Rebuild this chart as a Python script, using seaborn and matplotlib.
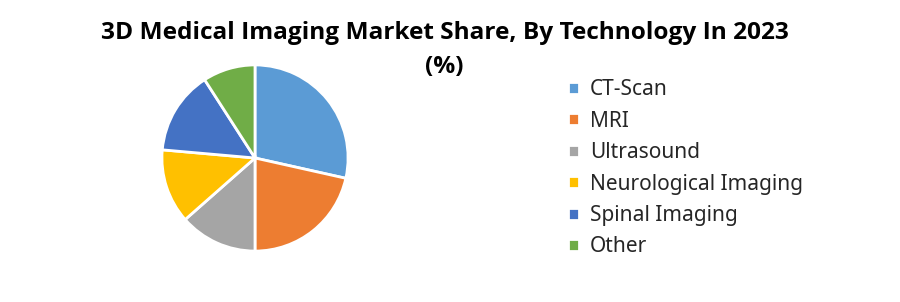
import matplotlib
matplotlib.use("Agg")
import matplotlib.pyplot as plt
import seaborn as sns

categories = ["CT-Scan", "MRI", "Ultrasound", "Neurological Imaging", "Spinal Imaging", "Other"]
shares = [28.5, 21.5, 13.5, 12.9, 14.5, 9.1]
colors = ["#5B9BD5", "#ED7D31", "#A5A5A5", "#FFC000", "#4472C4", "#70AD47"]
title = "3D Medical Imaging Market Share, By Technology In 2023\n(%)"

sns.set_theme(style="white")
plt.rcParams['font.family'] = ['Open Sans', 'DejaVu Sans']

fig = plt.figure(figsize=(9, 3.02), dpi=100)
ax = fig.add_axes([(255 - 94) / 900, (302 - 158 - 94) / 302, 188 / 900, 188 / 302])
wedges, _ = ax.pie(shares, colors=colors, startangle=90, counterclock=False,
                   wedgeprops=dict(edgecolor="white", linewidth=2))
ax.set_xlim(-1.01, 1.01)
ax.set_ylim(-1.01, 1.01)
ax.set_aspect("equal")

fig.text(0.494, 0.93, title, ha="center", va="top", fontsize=17.6, fontweight="bold",
         linespacing=1.55, color="black")

leg = fig.legend(wedges, categories, loc="upper left", bbox_to_anchor=(560 / 900, 0.765),
                 frameon=False, fontsize=15, handlelength=0.5, handleheight=0.5,
                 handletextpad=0.55, labelspacing=0.5, borderaxespad=0)
for t in leg.get_texts():
    t.set_family(['Noto Sans', 'DejaVu Sans'])

fig.savefig("out.png", dpi=100)
